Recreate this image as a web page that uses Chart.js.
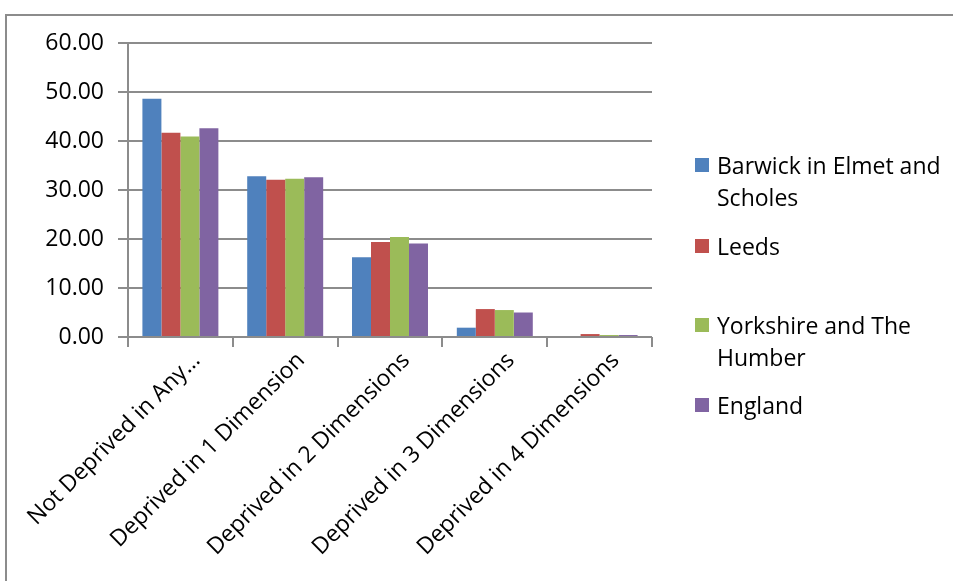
<!DOCTYPE html>
<html>
<head>
<meta charset="utf-8">
<script src="https://cdn.jsdelivr.net/npm/chart.js@4/dist/chart.umd.min.js"></script>
<style>
  html, body { margin: 0; padding: 0; background: #fff; }
  #wrap { position: relative; width: 953px; height: 581px; overflow: hidden; }
  #frame { position: absolute; left: 5px; top: 14px; width: 960px; height: 600px;
           border-left: 2px solid #8c8c8c; border-top: 2px solid #8c8c8c; }
  #chart { position: absolute; left: 0; top: 0; }
  #legend { position: absolute; left: 695px; top: 0; font-family: "Open Sans", sans-serif;
            font-size: 23px; color: #000; }
  .item { position: absolute; left: 0; white-space: nowrap; line-height: 32px; }
  .item i { position: absolute; left: 0; top: 9px; width: 14px; height: 14px; }
  .item span { display: block; margin-left: 22px; }
</style>
</head>
<body>
<div id="wrap">
  <div id="frame"></div>
  <canvas id="chart" width="953" height="581"></canvas>
  <div id="legend"></div>
</div>
<script>
const categories = ['Not Deprived in Any…', 'Deprived in 1 Dimension', 'Deprived in 2 Dimensions',
                    'Deprived in 3 Dimensions', 'Deprived in 4 Dimensions'];
const seriesNames = ['Barwick in Elmet and Scholes', 'Leeds', 'Yorkshire and The Humber', 'England'];
const legendLines = [['Barwick in Elmet and', 'Scholes'], ['Leeds'], ['Yorkshire and The', 'Humber'], ['England']];
const barwick = [48.6, 32.8, 16.3, 1.9, 0.0];
const leeds = [41.7, 32.1, 19.4, 5.7, 0.6];
const yorkshire = [40.9, 32.3, 20.4, 5.5, 0.4];
const england = [42.6, 32.6, 19.1, 5.0, 0.4];
const colors = ['#4f81bd', '#c0504d', '#9bbb59', '#8064a2'];
const yTicks = [0, 10, 20, 30, 40, 50, 60];

const values = [barwick, leeds, yorkshire, england];
const gridColor = '#8c8c8c';
const font = { family: '"Open Sans", sans-serif', size: 23 };

new Chart(document.getElementById('chart'), {
  type: 'bar',
  data: {
    labels: categories,
    datasets: seriesNames.map((name, i) => ({
      label: name,
      data: values[i],
      backgroundColor: colors[i],
      categoryPercentage: 0.725,
      barPercentage: 1.0
    }))
  },
  options: {
    responsive: false,
    animation: false,
    layout: { padding: { left: 0, top: 43, right: 301, bottom: 0 } },
    plugins: { legend: { display: false }, tooltip: { enabled: false } },
    scales: {
      x: {
        grid: { drawOnChartArea: false, drawTicks: true, tickLength: 10, color: gridColor, lineWidth: 2 },
        border: { display: false },
        ticks: { color: '#000', font: font, minRotation: 45, maxRotation: 45, autoSkip: false,
                 padding: 0, labelOffset: 16 },
        afterFit: s => { s.height = 581 - 337; }
      },
      y: {
        min: 0, max: 60,
        afterBuildTicks: s => { s.ticks = yTicks.map(v => ({ value: v })); },
        grid: { color: gridColor, lineWidth: 2, tickLength: 10 },
        border: { color: gridColor, width: 2 },
        ticks: { color: '#000', font: font, padding: 14, callback: v => v.toFixed(2) },
        afterFit: s => { s.width = 128; }
      }
    }
  }
});

// legend laid out beside the plot
const rows = [165, 246, 325, 405];
const legend = document.getElementById('legend');
legendLines.forEach((lines, i) => {
  const el = document.createElement('div');
  el.className = 'item';
  el.style.top = (rows[i] - 16) + 'px';
  el.innerHTML = '<i style="background:' + colors[i] + '"></i><span>' + lines.join('<br>') + '</span>';
  legend.appendChild(el);
});
</script>
</body>
</html>
